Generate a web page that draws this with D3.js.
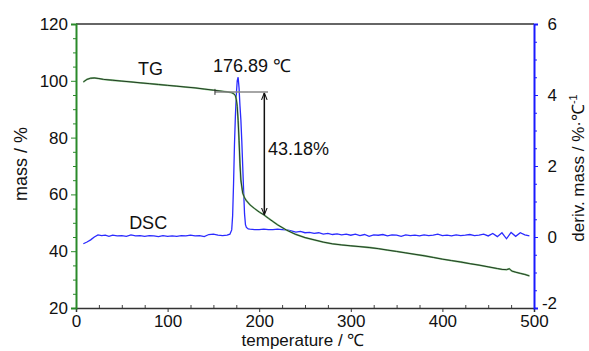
<!DOCTYPE html>
<html>
<head>
<meta charset="utf-8">
<script src="https://cdn.jsdelivr.net/npm/d3@7"></script>
<style>
  body { margin: 0; background: #fff; }
  svg { display: block; font-family: "Liberation Sans", Arial, sans-serif; }
  .tick text { font-size: 17px; fill: #111; }
  .label { font-size: 18px; fill: #111; }
</style>
</head>
<body>
<script>
// TG curve (mass %) vs temperature
const tgTemp = [8,12,16,20,25,30,40,50,60,70,80,90,100,110,120,130,140,150,160,165,170,172,174,175,176,177,178,179,180,182,184,186,190,195,200,205,210,220,230,240,250,260,270,280,290,300,310,320,330,340,350,360,370,380,390,400,410,420,430,440,450,460,465,470,473,476,480,485,490,495]
const tgMass = [99.6,100.5,100.9,101.0,100.8,100.5,100.2,99.9,99.6,99.3,99.0,98.7,98.4,98.1,97.8,97.5,97.1,96.7,96.3,96.1,95.8,95.5,94.8,93.5,91,86,79,71,65,60.5,58.8,57.8,56.3,55,53.8,52.8,51.6,49.3,47.4,45.9,44.8,44.0,43.2,42.6,42.2,41.9,41.6,41.3,40.9,40.4,39.9,39.4,38.9,38.4,37.8,37.2,36.7,36.2,35.6,35.1,34.5,33.9,33.6,33.5,33.8,33.0,32.6,32.2,31.8,31.3]

// DSC curve (deriv. mass %/℃) vs temperature
const dscTemp = [8,12,16,20,24,28,32,36,40,45,50,55,60,65,70,75,80,85,90,95,100,105,110,115,120,125,130,135,140,145,150,155,160,165,168,170,171,172,173,174,175,176,177,178,179,180,181,182,183,184,185,186,188,190,195,200,205,210,215,220,225,230,235,240,245,250,255,260,265,270,275,280,285,290,295,300,305,310,315,320,325,330,335,340,345,350,355,360,365,370,375,380,385,390,395,400,405,410,415,420,425,430,435,440,445,450,455,460,465,470,475,480,485,490,495]
const dscVal = [-0.19,-0.14,-0.08,0.0,0.06,0.04,0.05,0.02,0.05,0.03,0.04,0.02,0.06,0.03,0.04,0.02,0.04,0.03,0.01,0.04,0.02,0.03,0.02,0.04,0.03,0.05,0.03,0.04,0.01,0.07,0.08,0.05,0.04,0.05,0.08,0.2,0.6,1.5,2.6,3.4,4.0,4.4,4.5,4.2,3.7,3.3,2.7,2.0,1.3,0.65,0.35,0.27,0.23,0.22,0.21,0.21,0.22,0.21,0.21,0.22,0.21,0.20,0.17,0.14,0.16,0.12,0.13,0.10,0.12,0.08,0.10,0.07,0.09,0.06,0.08,0.05,0.08,0.04,0.07,0.02,0.06,0.05,0.07,0.03,0.06,0.05,0.02,0.06,0.04,0.05,0.03,0.06,0.04,0.05,0.08,0.04,0.05,0.03,0.06,0.04,0.05,0.07,0.04,0.05,0.08,0.03,0.10,0.01,0.12,-0.05,0.13,0.02,0.12,0.06,0.03]

// axis ticks
const xTicks = [0, 100, 200, 300, 400, 500]
const massTicks = [20, 40, 60, 80, 100, 120]
const derivTicks = [-2, 0, 2, 4, 6]

// annotations
const peakTemp = 176.89
const stepStart = 151.7, stepEnd = 209.6, stepMassTop = 96.1, stepMassBottom = 52.8, arrowTemp = 205.6

const w = 589, h = 351
const pLeft = 76, pRight = 534, pTop = 24, pBottom = 308

const svg = d3.select('body').append('svg').attr('width', w).attr('height', h)

const x = d3.scaleLinear().domain([0, 500]).range([pLeft, pRight])
const yM = d3.scaleLinear().domain([20, 120]).range([pBottom, pTop])
const yD = d3.scaleLinear().domain([-2, 6]).range([pBottom, pTop])

// top border
svg.append('line')
  .attr('x1', pLeft).attr('x2', pRight).attr('y1', pTop).attr('y2', pTop)
  .style('stroke', '#333').style('stroke-width', 1.5)

// bottom axis
svg.append('g')
  .attr('transform', `translate(0,${pBottom})`)
  .call(d3.axisBottom(x).tickValues(d3.range(0, 501, 25).filter(v => v % 100)).tickSize(-3).tickFormat(''))
  .call(g => g.selectAll('line').style('stroke', '#444'))
  .call(g => g.select('.domain').remove())
const xAxis = svg.append('g')
  .attr('transform', `translate(0,${pBottom})`)
  .call(d3.axisBottom(x).tickValues(xTicks).tickSize(4).tickPadding(3))
xAxis.select('.domain').style('stroke', '#333').style('stroke-width', 1.5)
xAxis.selectAll('line').style('stroke', '#333')

// left axis (green)
svg.append('g')
  .attr('transform', `translate(${pLeft},0)`)
  .call(d3.axisLeft(yM).tickValues(d3.range(20, 121, 5).filter(v => v % 20)).tickSize(3).tickFormat(''))
  .call(g => g.selectAll('line').style('stroke', '#2a8a2a'))
  .call(g => g.select('.domain').remove())
const yAxisL = svg.append('g')
  .attr('transform', `translate(${pLeft},0)`)
  .call(d3.axisLeft(yM).tickValues(massTicks).tickSize(5).tickPadding(3))
yAxisL.select('.domain').style('stroke', '#2a8a2a').style('stroke-width', 2)
yAxisL.selectAll('line').style('stroke', '#2a8a2a')

// right axis (blue)
svg.append('g')
  .attr('transform', `translate(${pRight},0)`)
  .call(d3.axisRight(yD).tickValues(d3.range(-2, 6.01, 0.5).filter(v => v % 2)).tickSize(3).tickFormat(''))
  .call(g => g.selectAll('line').style('stroke', '#1a1aff'))
  .call(g => g.select('.domain').remove())
const yAxisR = svg.append('g')
  .attr('transform', `translate(${pRight},0)`)
  .call(d3.axisRight(yD).tickValues(derivTicks).tickSize(4).tickPadding(7).tickFormat(d => String(d)))
yAxisR.select('.domain').style('stroke', '#1a1aff').style('stroke-width', 2)
yAxisR.selectAll('line').style('stroke', '#1a1aff')
yAxisR.selectAll('text').attr('text-anchor', 'end').attr('x', 23)
  .filter(d => d === -2).attr('dy', '0.05em')

// axis titles
svg.append('text').attr('class', 'label').style('font-size', '17px')
  .attr('x', 303).attr('y', 346).attr('text-anchor', 'middle')
  .text('temperature / ℃')
svg.append('text').attr('class', 'label')
  .attr('transform', 'translate(27,164) rotate(-90)').attr('text-anchor', 'middle')
  .text('mass / %')
const rl = svg.append('text').attr('class', 'label').style('font-size', '17px')
  .attr('transform', 'translate(584,168) rotate(-90)').attr('text-anchor', 'middle')
rl.append('tspan').text('deriv. mass / %·℃')
rl.append('tspan').attr('dy', -7).style('font-size', '11px').text('-1')

// DSC line
const lineD = d3.line().x((d, i) => x(dscTemp[i])).y(d => yD(d))
svg.append('path').datum(dscVal)
  .attr('d', lineD)
  .style('fill', 'none').style('stroke', '#2b2bff').style('stroke-width', 1.3)

// TG line: faint green halo + dark core
const lineM = d3.line().x((d, i) => x(tgTemp[i])).y(d => yM(d))
svg.append('path').datum(tgMass)
  .attr('d', lineM)
  .style('fill', 'none').style('stroke', '#7cbf7c').style('stroke-width', 1.8)
svg.append('path').datum(tgMass)
  .attr('d', lineM)
  .style('fill', 'none').style('stroke', '#1c2a1c').style('stroke-width', 0.9)

// step annotation
svg.append('line')
  .attr('x1', x(stepStart)).attr('x2', x(stepEnd))
  .attr('y1', yM(stepMassTop)).attr('y2', yM(stepMassTop))
  .style('stroke', '#888').style('stroke-width', 1.5)
svg.append('line')
  .attr('x1', x(stepStart)).attr('x2', x(stepStart))
  .attr('y1', yM(stepMassTop) - 3).attr('y2', yM(stepMassTop) + 3)
  .style('stroke', '#333').style('stroke-width', 1)

const defs = svg.append('defs')
defs.append('marker').attr('id', 'arr')
  .attr('viewBox', '0 0 10 10').attr('refX', 10).attr('refY', 5)
  .attr('markerWidth', 7).attr('markerHeight', 7).attr('orient', 'auto-start-reverse')
  .attr('markerUnits', 'userSpaceOnUse')
  .append('path').attr('d', 'M0,1 L10,5 L0,9').style('fill', 'none').style('stroke', '#111').style('stroke-width', 1.5)

svg.append('line')
  .attr('x1', x(arrowTemp)).attr('x2', x(arrowTemp))
  .attr('y1', yM(stepMassTop) + 1).attr('y2', yM(stepMassBottom))
  .attr('marker-start', 'url(#arr)').attr('marker-end', 'url(#arr)')
  .style('stroke', '#111').style('stroke-width', 1.5)

// labels
svg.append('text').attr('class', 'label')
  .attr('x', x(81.4)).attr('y', yM(102)).attr('text-anchor', 'middle').text('TG')
svg.append('text').attr('class', 'label')
  .attr('x', x(58)).attr('y', yD(0.22)).text('DSC')
svg.append('text').attr('class', 'label')
  .attr('x', x(149.5)).attr('y', yM(103)).text(peakTemp + ' ℃')
svg.append('text').attr('class', 'label')
  .attr('x', x(209.6)).attr('y', yM(73.9)).text('43.18%')
</script>
</body>
</html>
